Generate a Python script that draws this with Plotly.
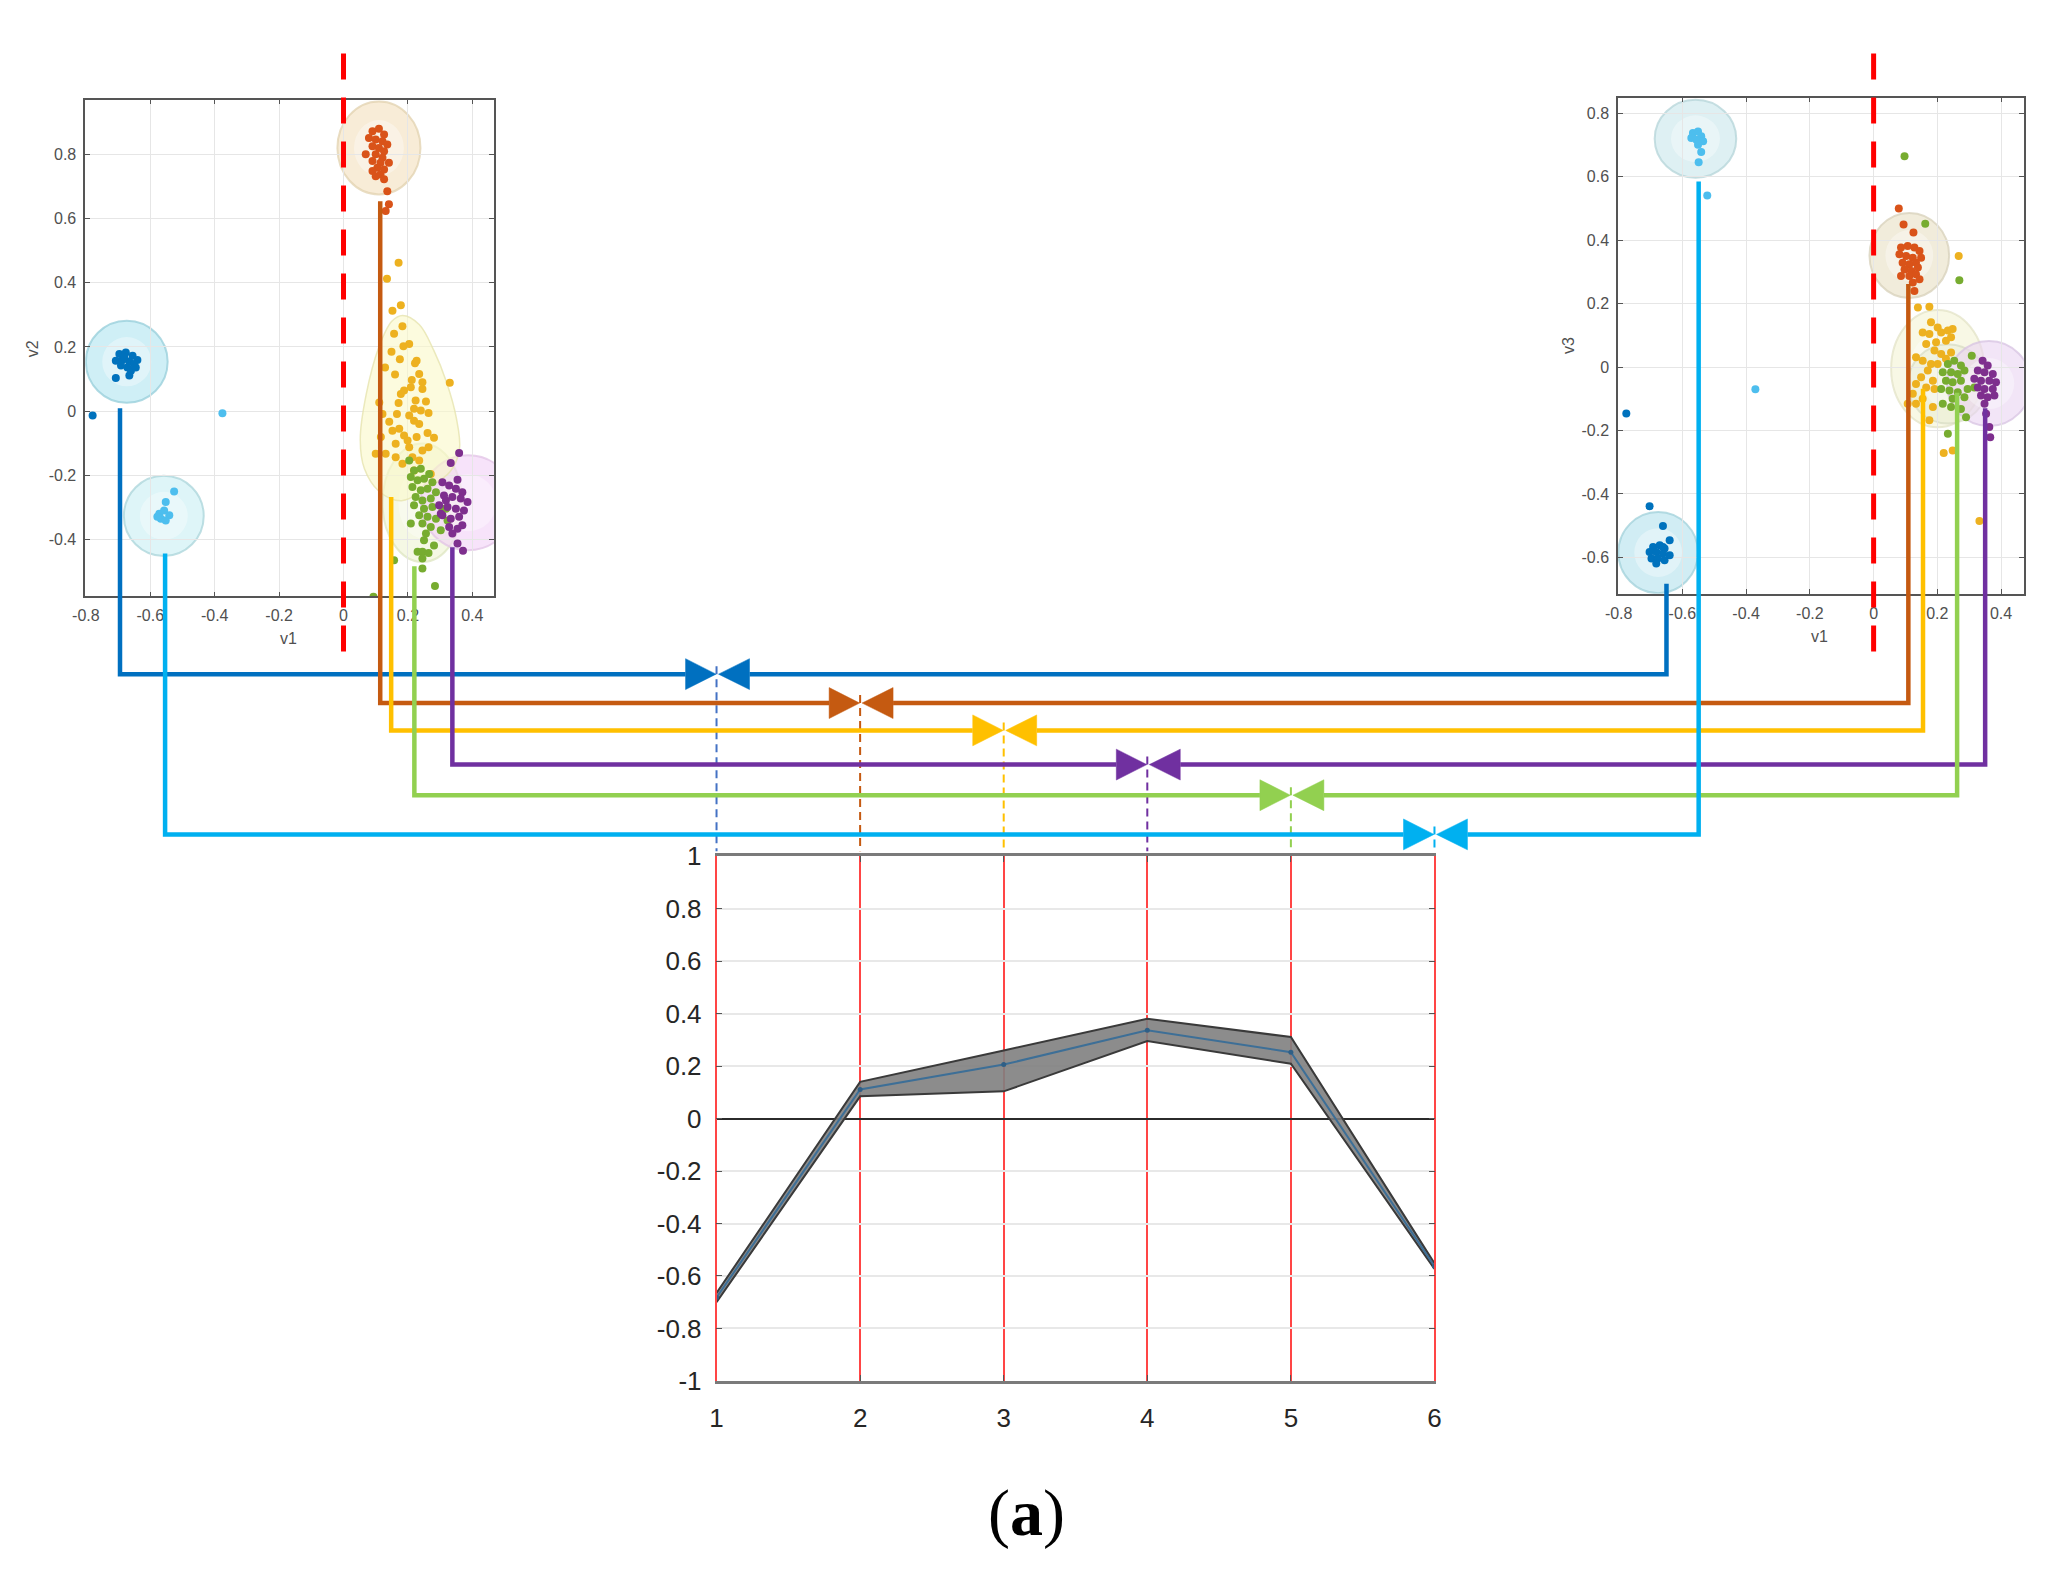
import plotly.graph_objects as go

# page is 2063x1578; the browser keeps an 8px body margin, so the figure is 2047x1562 placed at (8, 8)
PAGE_W, PAGE_H = 2063, 1578
OFF = 8
W, H = PAGE_W - 2 * OFF, PAGE_H - 2 * OFF
# measured mapping page -> photographed picture (obs = A + S * page)
AXX, SXX = 10.5, 0.991
AYY, SYY = 13.5, 0.9835

# ---------------- data: bottom profile chart ----------------
profile_x = [1, 2, 3, 4, 5, 6]
profile_mean = [-0.682, 0.111, 0.206, 0.337, 0.253, -0.563]
profile_upper = [-0.665, 0.140, 0.260, 0.381, 0.311, -0.552]
profile_lower = [-0.700, 0.085, 0.104, 0.296, 0.209, -0.573]
profile_yticks = [-1, -0.8, -0.6, -0.4, -0.2, 0, 0.2, 0.4, 0.6, 0.8, 1]
profile_ylabels = ['-1', '-0.8', '-0.6', '-0.4', '-0.2', '0', '0.2', '0.4', '0.6', '0.8', '1']
profile_xlabels = ['1', '2', '3', '4', '5', '6']

# ---------------- data: scatter axes ticks ----------------
scatter_xticks = [-0.8, -0.6, -0.4, -0.2, 0, 0.2, 0.4]
scatter_xlabels = ['-0.8', '-0.6', '-0.4', '-0.2', '0', '0.2', '0.4']
left_yticks = [-0.4, -0.2, 0, 0.2, 0.4, 0.6, 0.8]
left_ylabels = ['-0.4', '-0.2', '0', '0.2', '0.4', '0.6', '0.8']
right_yticks = [-0.6, -0.4, -0.2, 0, 0.2, 0.4, 0.6, 0.8]
right_ylabels = ['-0.6', '-0.4', '-0.2', '0', '0.2', '0.4', '0.6', '0.8']

# ---------------- data: left scatter (v1, v2) ----------------
left_c1 = [(-0.696, 0.178), (-0.676, 0.183), (-0.655, 0.173), (-0.640, 0.159), (-0.707, 0.157),
           (-0.686, 0.159), (-0.665, 0.155), (-0.650, 0.147), (-0.691, 0.142), (-0.671, 0.136),
           (-0.660, 0.126), (-0.665, 0.111), (-0.707, 0.103), (-0.681, 0.168), (-0.645, 0.136),
           (-0.779, -0.014)]
left_c6 = [(-0.572, -0.320), (-0.557, -0.310), (-0.541, -0.325), (-0.567, -0.336), (-0.552, -0.341),
           (-0.578, -0.330), (-0.552, -0.284), (-0.526, -0.251), (-0.376, -0.007)]
left_c2 = [(0.090, 0.873), (0.110, 0.881), (0.126, 0.863), (0.079, 0.852), (0.100, 0.847),
           (0.121, 0.842), (0.136, 0.832), (0.090, 0.826), (0.110, 0.821), (0.126, 0.811),
           (0.069, 0.801), (0.100, 0.801), (0.121, 0.790), (0.090, 0.780), (0.115, 0.775),
           (0.141, 0.775), (0.105, 0.759), (0.126, 0.754), (0.090, 0.749), (0.115, 0.738),
           (0.126, 0.723), (0.100, 0.733), (0.136, 0.686), (0.141, 0.645), (0.131, 0.624)]
left_c3 = [(0.171, 0.463), (0.135, 0.413), (0.152, 0.313), (0.178, 0.330), (0.183, 0.265),
           (0.157, 0.241), (0.204, 0.209), (0.186, 0.202), (0.149, 0.185), (0.175, 0.162),
           (0.129, 0.136), (0.227, 0.157), (0.222, 0.149), (0.235, 0.116), (0.160, 0.114),
           (0.212, 0.097), (0.245, 0.090), (0.330, 0.088), (0.188, 0.064), (0.178, 0.053),
           (0.245, 0.069), (0.171, 0.025), (0.224, 0.033), (0.256, 0.030), (0.219, 0.007),
           (0.166, -0.009), (0.264, -0.006), (0.111, 0.027), (0.142, -0.033), (0.219, -0.030),
           (0.235, -0.040), (0.152, -0.061), (0.173, -0.055), (0.188, -0.076), (0.261, -0.068),
           (0.281, -0.083), (0.227, -0.081), (0.116, -0.081), (0.100, -0.133), (0.131, -0.133),
           (0.162, -0.144), (0.204, -0.113), (0.245, -0.123), (0.264, -0.113), (0.183, -0.164),
           (0.214, -0.144), (0.235, -0.154), (0.271, -0.196), (0.219, -0.185), (0.162, -0.102),
           (0.199, -0.092), (0.121, -0.009), (0.209, 0.074), (0.240, 0.002), (0.204, -0.014)]
left_c5 = [(0.204, -0.154), (0.219, -0.185), (0.240, -0.180), (0.266, -0.196), (0.209, -0.206),
           (0.230, -0.216), (0.250, -0.211), (0.276, -0.222), (0.214, -0.237), (0.240, -0.247),
           (0.261, -0.242), (0.287, -0.253), (0.224, -0.268), (0.245, -0.279), (0.271, -0.273),
           (0.219, -0.294), (0.250, -0.305), (0.276, -0.299), (0.307, -0.305), (0.235, -0.325),
           (0.261, -0.330), (0.287, -0.336), (0.245, -0.351), (0.271, -0.362), (0.302, -0.372),
           (0.209, -0.351), (0.256, -0.382), (0.250, -0.403), (0.281, -0.419), (0.230, -0.439),
           (0.245, -0.439), (0.264, -0.443), (0.245, -0.460), (0.245, -0.491), (0.284, -0.546),
           (0.157, -0.465), (0.318, -0.305), (0.323, -0.341), (0.093, -0.579)]
left_c4 = [(0.359, -0.131), (0.333, -0.162), (0.354, -0.214), (0.307, -0.222), (0.328, -0.232),
           (0.349, -0.242), (0.369, -0.253), (0.312, -0.263), (0.338, -0.268), (0.364, -0.273),
           (0.385, -0.284), (0.297, -0.294), (0.323, -0.299), (0.349, -0.305), (0.374, -0.310),
           (0.307, -0.325), (0.333, -0.336), (0.359, -0.330), (0.328, -0.362), (0.354, -0.367),
           (0.338, -0.382), (0.369, -0.356), (0.354, -0.413), (0.371, -0.436), (0.302, -0.320),
           (0.318, -0.279)]

# ---------------- data: right scatter (v1, v3) ----------------
right_c1 = [(-0.692, -0.567), (-0.671, -0.562), (-0.656, -0.572), (-0.703, -0.583), (-0.682, -0.583),
            (-0.661, -0.588), (-0.640, -0.593), (-0.697, -0.604), (-0.677, -0.604), (-0.656, -0.609),
            (-0.682, -0.619), (-0.661, -0.567), (-0.640, -0.546), (-0.661, -0.501), (-0.703, -0.439),
            (-0.776, -0.146)]
right_c6 = [(-0.567, 0.738), (-0.551, 0.743), (-0.541, 0.728), (-0.572, 0.722), (-0.556, 0.717),
            (-0.535, 0.712), (-0.551, 0.701), (-0.541, 0.678), (-0.549, 0.646), (-0.522, 0.541),
            (-0.371, -0.070)]
right_c2 = [(0.086, 0.377), (0.107, 0.382), (0.128, 0.377), (0.144, 0.366), (0.081, 0.356),
            (0.102, 0.350), (0.123, 0.345), (0.149, 0.345), (0.091, 0.329), (0.112, 0.324),
            (0.133, 0.329), (0.097, 0.308), (0.118, 0.303), (0.139, 0.314), (0.086, 0.287),
            (0.112, 0.287), (0.133, 0.293), (0.123, 0.267), (0.144, 0.277), (0.128, 0.240),
            (0.079, 0.500), (0.094, 0.450), (0.125, 0.424)]
right_c3 = [(0.139, 0.188), (0.175, 0.190), (0.180, 0.141), (0.201, 0.125), (0.154, 0.109),
            (0.175, 0.104), (0.212, 0.109), (0.233, 0.115), (0.248, 0.120), (0.165, 0.073),
            (0.196, 0.078), (0.227, 0.083), (0.243, 0.094), (0.191, 0.052), (0.212, 0.041),
            (0.243, 0.046), (0.133, 0.031), (0.154, 0.020), (0.180, 0.010), (0.201, 0.010),
            (0.227, 0.026), (0.170, -0.011), (0.149, -0.032), (0.186, -0.043), (0.165, -0.064),
            (0.191, -0.069), (0.133, -0.053), (0.123, -0.084), (0.107, -0.116), (0.133, -0.116),
            (0.186, -0.126), (0.175, -0.168), (0.154, -0.100), (0.267, 0.350), (0.220, -0.271),
            (0.248, -0.263), (0.332, -0.485)]
right_c5 = [(0.233, 0.010), (0.253, 0.020), (0.274, 0.005), (0.217, -0.016), (0.243, -0.016),
            (0.264, -0.022), (0.285, -0.011), (0.227, -0.043), (0.248, -0.048), (0.274, -0.043),
            (0.295, -0.069), (0.212, -0.069), (0.238, -0.074), (0.264, -0.079), (0.248, -0.100),
            (0.285, -0.095), (0.217, -0.116), (0.243, -0.126), (0.274, -0.132), (0.290, -0.158),
            (0.233, -0.210), (0.097, 0.665), (0.162, 0.452), (0.269, 0.274), (0.308, 0.036),
            (0.316, -0.064)]
right_c4 = [(0.342, 0.020), (0.358, 0.005), (0.327, -0.011), (0.348, -0.016), (0.374, -0.022),
            (0.316, -0.037), (0.337, -0.043), (0.363, -0.043), (0.384, -0.048), (0.327, -0.064),
            (0.348, -0.069), (0.374, -0.069), (0.337, -0.090), (0.358, -0.095), (0.379, -0.090),
            (0.348, -0.116), (0.353, -0.147), (0.363, -0.189), (0.366, -0.221)]

# cluster "bubbles": (centre v1, centre v, radius v1, radius v)
left_bubbles = [(-0.673, 0.154, 0.127, 0.128), (-0.558, -0.327, 0.124, 0.125),
                (0.110, 0.821, 0.129, 0.145), (0.245, -0.286, 0.124, 0.185),
                (0.387, -0.286, 0.147, 0.148)]
left_yellow_hull = [(0.183, 0.298), (0.235, 0.27), (0.28, 0.19), (0.32, 0.09), (0.35, -0.02),
                    (0.36, -0.12), (0.33, -0.19), (0.26, -0.24), (0.18, -0.28), (0.11, -0.25),
                    (0.065, -0.18), (0.052, -0.09), (0.07, 0.05), (0.11, 0.20), (0.15, 0.28),
                    (0.183, 0.298)]
right_bubbles = [(-0.559, 0.720, 0.128, 0.123), (-0.676, -0.585, 0.125, 0.128),
                 (0.112, 0.352, 0.125, 0.134), (0.201, -0.005, 0.146, 0.185),
                 (0.233, -0.053, 0.125, 0.125), (0.362, -0.052, 0.132, 0.134)]

# connector anchors (order: profile 1..6)
left_anchor_v1 = [-0.694, 0.114, 0.148, 0.338, 0.220, -0.554]
left_anchor_v2 = [0.009, 0.655, -0.268, -0.425, -0.484, -0.444]
right_anchor_v1 = [-0.650, 0.109, 0.155, 0.350, 0.262, -0.549]
right_anchor_v3 = [-0.683, 0.262, -0.068, -0.130, -0.081, 0.585]

# ---------------- styles / layout (target picture pixel coordinates) ----------------
AX_L = dict(px=(82.7, 491.7), py=(98.1, 596.3), xr=(-0.802, 0.467), yr=(-0.578, 0.972))
AX_R = dict(px=(1616.7, 2022.7), py=(96.1, 593.6), xr=(-0.802, 0.471), yr=(-0.7145, 0.85))
AX_B = dict(px=(714.5, 1433.0), py=(857.0, 1383.0), xr=(1, 6), yr=(-1, 1))
LEVELS = [674.3, 703.3, 730.7, 765.0, 795.7, 835.0]
CONN_COLORS = ['#0070C0', '#C55A11', '#FFC000', '#7030A0', '#92D050', '#00B0F0']
DASH_COLORS = ['#4472C4', '#C55A11', '#FFC000', '#7030A0', '#92D050', '#00B0F0']
PT_COLORS = {'c1': '#0072BD', 'c2': '#D95319', 'c3': '#EDB120', 'c4': '#7E2F8E',
             'c5': '#77AC30', 'c6': '#4DBEEE'}
LEFT_BUB_STYLE = [('rgba(175,228,240,0.6)', 'rgba(150,205,218,0.75)'),
                  ('rgba(200,238,244,0.6)', 'rgba(170,212,218,0.75)'),
                  ('rgba(243,224,188,0.6)', 'rgba(225,210,175,0.75)'),
                  ('rgba(236,242,205,0.55)', 'rgba(220,228,190,0.7)'),
                  ('rgba(242,208,246,0.6)', 'rgba(225,195,230,0.75)')]
RIGHT_BUB_STYLE = [('rgba(205,232,236,0.65)', 'rgba(180,212,216,0.75)'),
                   ('rgba(185,228,238,0.65)', 'rgba(160,208,218,0.75)'),
                   ('rgba(234,226,200,0.65)', 'rgba(215,208,185,0.75)'),
                   ('rgba(242,242,208,0.55)', 'rgba(225,225,195,0.7)'),
                   ('rgba(228,232,205,0.45)', 'rgba(210,215,190,0.6)'),
                   ('rgba(234,212,242,0.6)', 'rgba(215,195,225,0.75)')]


def px2paper(xp, yp):
    xpage = (xp - AXX) / SXX
    ypage = (yp - AYY) / SYY
    return (xpage - OFF) / W, 1 - (ypage - OFF) / H


def dom(ax):
    (x0, x1), (y0, y1) = ax['px'], ax['py']
    a, b = px2paper(x0, y1)
    c, d = px2paper(x1, y0)
    return [a, c], [b, d]


def to_px(ax, x, y):
    (x0p, x1p), (y0p, y1p) = ax['px'], ax['py']
    (xr0, xr1), (yr0, yr1) = ax['xr'], ax['yr']
    X = x0p + (x - xr0) / (xr1 - xr0) * (x1p - x0p)
    Y = y1p - (y - yr0) / (yr1 - yr0) * (y1p - y0p)
    return X, Y


fig = go.Figure()

# ---- left scatter ----
fig.add_trace(go.Scatter(x=[p[0] for p in left_yellow_hull], y=[p[1] for p in left_yellow_hull],
                         mode='lines', line=dict(shape='spline', color='rgba(230,228,175,0.8)', width=1.5),
                         fill='toself', fillcolor='rgba(250,248,200,0.6)', xaxis='x', yaxis='y'))
for key, pts in [('c1', left_c1), ('c6', left_c6), ('c2', left_c2), ('c3', left_c3),
                 ('c5', left_c5), ('c4', left_c4)]:
    fig.add_trace(go.Scatter(x=[p[0] for p in pts], y=[p[1] for p in pts], mode='markers',
                             marker=dict(color=PT_COLORS[key], size=8, line=dict(width=0)),
                             xaxis='x', yaxis='y'))
# ---- right scatter ----
for key, pts in [('c1', right_c1), ('c6', right_c6), ('c2', right_c2), ('c3', right_c3),
                 ('c5', right_c5), ('c4', right_c4)]:
    fig.add_trace(go.Scatter(x=[p[0] for p in pts], y=[p[1] for p in pts], mode='markers',
                             marker=dict(color=PT_COLORS[key], size=8, line=dict(width=0)),
                             xaxis='x2', yaxis='y2'))

# ---- bottom profile ----
fig.add_trace(go.Scatter(x=profile_x, y=profile_lower, mode='lines',
                         line=dict(color='#3a3a3a', width=2), xaxis='x3', yaxis='y3'))
fig.add_trace(go.Scatter(x=profile_x, y=profile_upper, mode='lines',
                         line=dict(color='#3a3a3a', width=2), fill='tonexty',
                         fillcolor='rgba(128,128,128,0.9)', xaxis='x3', yaxis='y3'))
fig.add_trace(go.Scatter(x=profile_x, y=profile_mean, mode='lines+markers',
                         line=dict(color='#3d6f97', width=2), marker=dict(size=5, color='#2f5f86'),
                         xaxis='x3', yaxis='y3'))

# ---- overlay (target pixel space) : red dashed lines + connectors ----
for ax in (AX_L, AX_R):
    zx, _ = to_px(ax, 0, 0)
    fig.add_trace(go.Scatter(x=[zx, zx], y=[52, 667], mode='lines',
                             line=dict(color='#FF0000', width=5, dash='26px,18px'),
                             xaxis='x4', yaxis='y4'))

chart_top = AX_B['py'][0]
TW, TH = 31, 15.5
for i in range(6):
    mx, _ = to_px(AX_B, profile_x[i], 0)
    lev = LEVELS[i]
    fig.add_trace(go.Scatter(x=[mx, mx], y=[lev - 8, chart_top - 5], mode='lines',
                             line=dict(color=DASH_COLORS[i], width=2, dash='8px,5px'),
                             xaxis='x4', yaxis='y4'))
for i in range(6):
    mx, _ = to_px(AX_B, profile_x[i], 0)
    lev = LEVELS[i]
    lx, ly = to_px(AX_L, left_anchor_v1[i], left_anchor_v2[i])
    rx, ry = to_px(AX_R, right_anchor_v1[i], right_anchor_v3[i])
    c = CONN_COLORS[i]
    fig.add_trace(go.Scatter(x=[lx, lx, mx - TW], y=[ly, lev, lev], mode='lines',
                             line=dict(color=c, width=4.5), xaxis='x4', yaxis='y4'))
    fig.add_trace(go.Scatter(x=[rx, rx, mx + TW + 2], y=[ry, lev, lev], mode='lines',
                             line=dict(color=c, width=4.5), xaxis='x4', yaxis='y4'))
    fig.add_trace(go.Scatter(x=[mx - TW, mx - 0.5, mx - TW, mx - TW], y=[lev - TH, lev, lev + TH, lev - TH],
                             mode='lines', line=dict(color=c, width=0.5), fill='toself', fillcolor=c,
                             xaxis='x4', yaxis='y4'))
    fig.add_trace(go.Scatter(x=[mx + TW + 2, mx + 2, mx + TW + 2, mx + TW + 2],
                             y=[lev - TH, lev, lev + TH, lev - TH],
                             mode='lines', line=dict(color=c, width=0.5), fill='toself', fillcolor=c,
                             xaxis='x4', yaxis='y4'))

# ---- bubbles as shapes ----
shapes = []
for (cx, cy, rx_, ry_), (fc, lc) in zip(left_bubbles, LEFT_BUB_STYLE):
    shapes.append(dict(type='circle', xref='x', yref='y', x0=cx - rx_, x1=cx + rx_, y0=cy - ry_, y1=cy + ry_,
                       fillcolor=fc, line=dict(color=lc, width=2), layer='below'))
    shapes.append(dict(type='circle', xref='x', yref='y', x0=cx - rx_ * 0.6, x1=cx + rx_ * 0.6,
                       y0=cy - ry_ * 0.6, y1=cy + ry_ * 0.6,
                       fillcolor='rgba(255,255,255,0.35)', line=dict(width=0), layer='below'))
for (cx, cy, rx_, ry_), (fc, lc) in zip(right_bubbles, RIGHT_BUB_STYLE):
    shapes.append(dict(type='circle', xref='x2', yref='y2', x0=cx - rx_, x1=cx + rx_, y0=cy - ry_, y1=cy + ry_,
                       fillcolor=fc, line=dict(color=lc, width=2), layer='below'))
    shapes.append(dict(type='circle', xref='x2', yref='y2', x0=cx - rx_ * 0.6, x1=cx + rx_ * 0.6,
                       y0=cy - ry_ * 0.6, y1=cy + ry_ * 0.6,
                       fillcolor='rgba(255,255,255,0.35)', line=dict(width=0), layer='below'))

# ---- axes ----
sc_common = dict(showline=True, linecolor='#555555', linewidth=1.5, mirror='ticks', ticks='inside',
                 ticklen=5, tickcolor='#555555', tickwidth=1, showgrid=True, gridcolor='#e6e6e6',
                 gridwidth=1, zeroline=False, fixedrange=True, ticklabelstandoff=4,
                 tickfont=dict(size=16, color='#505050', family='Liberation Sans'))

xdL, ydL = dom(AX_L)
xdR, ydR = dom(AX_R)
xdB, ydB = dom(AX_B)

# overlay axis ranges so that its values are target picture pixels
ov_x = [AXX + SXX * OFF, AXX + SXX * (OFF + W)]
ov_y = [AYY + SYY * (OFF + H), AYY + SYY * OFF]


def ann(text, xp, yp, size, angle=0, family='Liberation Sans', color='#505050'):
    xa, ya = px2paper(xp, yp)
    return dict(text=text, x=xa, y=ya, xref='paper', yref='paper', showarrow=False,
                xanchor='center', yanchor='middle', textangle=angle,
                font=dict(size=size, color=color, family=family))


fig.update_layout(
    width=W, height=H, autosize=False,
    margin=dict(l=0, r=0, t=0, b=0, pad=0),
    paper_bgcolor='white', plot_bgcolor='rgba(0,0,0,0)',
    showlegend=False, hovermode=False,
    shapes=shapes,
    xaxis=dict(domain=xdL, range=list(AX_L['xr']), anchor='y', tickvals=scatter_xticks,
               ticktext=scatter_xlabels, **sc_common),
    yaxis=dict(domain=ydL, range=list(AX_L['yr']), anchor='x', tickvals=left_yticks,
               ticktext=left_ylabels, **sc_common),
    xaxis2=dict(domain=xdR, range=list(AX_R['xr']), anchor='y2', tickvals=scatter_xticks,
                ticktext=scatter_xlabels, **sc_common),
    yaxis2=dict(domain=ydR, range=list(AX_R['yr']), anchor='x2', tickvals=right_yticks,
                ticktext=right_ylabels, **sc_common),
    xaxis3=dict(domain=xdB, range=[1, 6], anchor='y3', tickvals=profile_x, ticktext=profile_xlabels,
                showline=True, linecolor='#7a7a7a', linewidth=2.5, mirror='ticks', ticks='inside',
                ticklen=6, tickcolor='#555555', showgrid=True, gridcolor='#ff4545', gridwidth=1.5,
                zeroline=False, fixedrange=True, ticklabelstandoff=12,
                tickfont=dict(size=26, color='#262626', family='Liberation Sans')),
    yaxis3=dict(domain=ydB, range=[-1, 1], anchor='x3', tickvals=profile_yticks, ticktext=profile_ylabels,
                showline=True, linecolor='#ff4545', linewidth=1.5, mirror='ticks', ticks='inside',
                ticklen=6, tickcolor='#555555', showgrid=True, gridcolor='#e8e8e8', gridwidth=2,
                zeroline=True, zerolinecolor='#2b2b2b', zerolinewidth=2, fixedrange=True,
                ticklabelstandoff=8,
                tickfont=dict(size=26, color='#262626', family='Liberation Sans')),
    xaxis4=dict(domain=[0, 1], range=ov_x, anchor='y4', visible=False, fixedrange=True),
    yaxis4=dict(domain=[0, 1], range=ov_y, anchor='x4', visible=False, fixedrange=True),
    annotations=[
        ann('v1', 285.7, 639, 16),
        ann('v2', 30, 348, 16, angle=-90),
        ann('v1', 1818, 637, 16),
        ann('v3', 1567, 345, 16, angle=-90),
        ann('(<b>a</b>)', 1025, 1515, 66, family='Liberation Serif', color='black'),
    ],
)

fig.write_html("out.html", config={'displayModeBar': False})
